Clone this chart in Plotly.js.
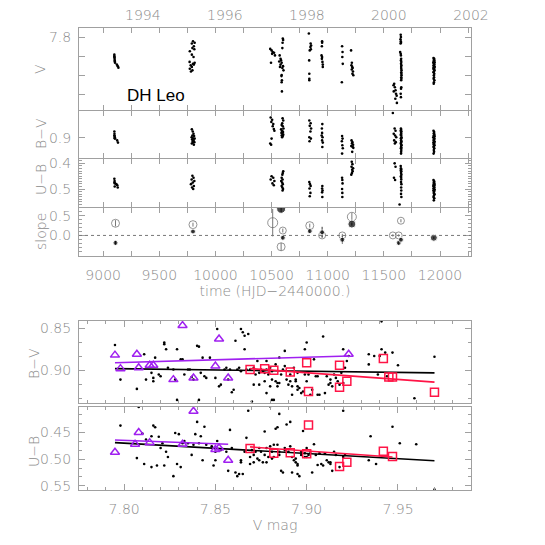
<!DOCTYPE html>
<html><head><meta charset="utf-8">
<script src="https://cdn.plot.ly/plotly-3.0.1.min.js"></script>
<style>html,body{margin:0;padding:0;background:#fff}#chart{width:545px;height:545px}</style>
</head><body><div id="chart"></div>
<script>
// ---------- top panels: time series ----------
const vTime = [9100,9100,9101,9102,9103,9104,9106,9122,9130,9136,
 9800,9815,9790,9808,9795,9812,9772,9790,9805,9770,9815,9800,9808,9780,9790,9772,9795,9782,
 10488,10500,10510,10522,10505,10530,10495,
 10600,10603,10598,10596,10572,10580,10585,10568,10590,10580,10602,10575,10596,10606,10590,10588,10592,10590,10592,
 10832,10848,10852,10846,10850,10840,10835,10836,10836,10836,
 10950,10950,10948,10945,10950,10948,10953,10956,10956,
 11128,11132,11130,11134,11126,
 11208,11215,11211,11218,11222,11214,11225,11220,11228,
 11592,11586,11598,11604,11588,11608,11614,11602,11616,
 11650,11652,11648,11651,11653,11649,11645,11650,11652,11654,11652,11655,11653,11656,11654,11655,11657,11655,11656,11657,11655,11656,11654,11655,11653,11650,11652,
 11942,11948,11945,11950,11944,11952,11940,11947,11950,11943,11946,11953,11941,11948,11944,11951,11946,11942,11949,11945,11947,11943,11950,11946,11944];
const vMag = [7.846,7.850,7.853,7.857,7.861,7.864,7.867,7.872,7.876,7.880,
 7.811,7.815,7.817,7.824,7.829,7.832,7.837,7.846,7.852,7.865,7.867,7.870,7.872,7.874,7.878,7.883,7.887,7.890,
 7.831,7.835,7.839,7.841,7.844,7.848,7.867,
 7.804,7.808,7.815,7.829,7.848,7.857,7.861,7.864,7.867,7.872,7.876,7.878,7.881,7.887,7.899,7.902,7.913,7.918,7.942,
 7.791,7.817,7.822,7.826,7.832,7.835,7.861,7.896,7.909,7.913,
 7.811,7.815,7.824,7.848,7.852,7.857,7.865,7.872,7.878,
 7.824,7.839,7.852,7.870,7.918,
 7.835,7.867,7.874,7.878,7.881,7.885,7.890,7.896,7.900,
 7.922,7.926,7.931,7.939,7.942,7.948,7.953,7.961,7.972,
 7.794,7.800,7.806,7.811,7.815,7.817,7.839,7.844,7.848,7.857,7.861,7.865,7.870,7.874,7.878,7.883,7.887,7.892,7.896,7.900,7.905,7.909,7.913,7.931,7.935,7.948,7.957,
 7.855,7.857,7.860,7.861,7.864,7.866,7.867,7.870,7.872,7.874,7.876,7.878,7.881,7.883,7.884,7.887,7.890,7.892,7.896,7.900,7.905,7.909,7.913,7.918,7.922];

const bvTime = [9100,9101,9100,9102,9104,9103,9106,9125,9132,
 9790,9798,9805,9795,9810,9788,9800,9815,9792,9805,9798,9812,9800,9790,9808,
 10492,10505,10498,10515,10510,10520,10525,10500,10488,10496,
 10598,10604,10595,10590,10600,10606,10585,10592,10598,10602,10588,10596,10604,10590,10600,10594,
 10836,10848,10840,10852,10846,10836,10850,10838,
 10952,10948,10950,10946,10954,10950,10956,10952,
 11128,11132,11126,11130,11134,11128,
 11212,11220,11216,11226,11210,11222,11228,11218,
 11580,11596,11604,11588,11600,11610,11592,11606,11598,
 11652,11654,11650,11656,11653,11655,11651,11654,11657,11652,11655,11653,11656,11654,11651,11655,11657,11653,11656,11652,11655,11654,11653,
 11942,11948,11945,11950,11944,11952,11940,11947,11950,11943,11946,11953,11941,11948,11944,11951,11946,11942,11949,11945,11947,11943];
const bvVal = [0.886,0.891,0.895,0.896,0.899,0.901,0.902,0.906,0.911,
 0.881,0.886,0.891,0.895,0.896,0.899,0.901,0.902,0.904,0.906,0.908,0.910,0.911,0.913,0.916,
 0.854,0.859,0.864,0.869,0.874,0.880,0.884,0.902,0.913,0.916,
 0.856,0.861,0.867,0.871,0.874,0.879,0.881,0.884,0.886,0.887,0.889,0.891,0.893,0.895,0.896,0.899,
 0.861,0.867,0.873,0.879,0.886,0.899,0.902,0.908,
 0.869,0.879,0.889,0.895,0.899,0.906,0.911,0.921,
 0.896,0.902,0.908,0.917,0.924,0.936,
 0.906,0.910,0.913,0.916,0.919,0.921,0.923,0.932,
 0.844,0.879,0.884,0.891,0.895,0.899,0.906,0.910,0.913,
 0.879,0.882,0.884,0.886,0.887,0.891,0.893,0.895,0.899,0.901,0.902,0.906,0.908,0.910,0.913,0.916,0.917,0.921,0.923,0.924,0.928,0.932,0.936,
 0.884,0.887,0.890,0.893,0.895,0.897,0.899,0.901,0.903,0.905,0.907,0.909,0.911,0.913,0.915,0.917,0.919,0.921,0.924,0.928,0.932,0.936];

const ubTime = [9100,9102,9101,9104,9118,9126,9103,9130,
 9795,9805,9788,9812,9798,9782,9808,9792,9802,
 10500,10515,10492,10525,10508,10520,
 10604,10600,10596,10590,10598,10586,10594,10600,10590,10596,10602,10598,
 10836,10842,10848,10838,10846,10840,
 10952,10950,10954,10950,10952,
 11128,11130,11132,11128,11130,11130,
 11214,11220,11212,11226,11218,11222,11216,11210,
 11596,11604,11590,11600,
 11650,11652,11654,11651,11655,11653,11656,11652,11654,11655,11653,11656,11654,11655,11653,11656,11640,
 11942,11948,11945,11950,11944,11952,11940,11947,11950,11943,11946,11953,11941,11948,11944,11951,11946,11942,11949,11945];
const ubVal = [0.460,0.469,0.475,0.478,0.481,0.485,0.490,0.494,
 0.448,0.456,0.463,0.469,0.475,0.481,0.488,0.494,0.500,
 0.450,0.456,0.463,0.469,0.478,0.485,
 0.431,0.438,0.444,0.456,0.463,0.469,0.475,0.481,0.488,0.494,0.500,0.506,
 0.473,0.481,0.488,0.498,0.515,0.528,
 0.488,0.498,0.506,0.513,0.531,
 0.456,0.465,0.478,0.500,0.515,0.531,
 0.394,0.403,0.413,0.419,0.425,0.431,0.438,0.444,
 0.400,0.413,0.456,0.465,
 0.410,0.419,0.423,0.428,0.431,0.438,0.444,0.450,0.456,0.463,0.473,0.481,0.494,0.506,0.519,0.531,0.560,
 0.465,0.470,0.475,0.478,0.481,0.484,0.488,0.491,0.494,0.497,0.500,0.503,0.506,0.510,0.515,0.520,0.525,0.531,0.536,0.544];

// slope panel
const openTime = [9110,9800,10510,10600,10585,10840,10950,11130,11215,11580,11632,11652];
const openSlope = [0.31,0.275,0.325,0.125,-0.29,0.25,0.0,0.0,0.475,0.0,0.0,0.375];
const openErr = [0.08,0.05,0.35,0.05,0.10,0.05,0.04,0.04,0.10,0.03,0.03,0.04];
const openSize = [8,8,10,7,8,8,7,7,9,7,7,7];
const fillTime = [9110,9800,10585,10600,10840,10950,11130,11215,11632,11652,11945];
const fillSlope = [-0.19,0.10,0.68,-0.06,0.11,0.08,-0.11,0.29,-0.19,-0.11,-0.06];
const fillErr = [0.05,0.03,0.10,0.04,0.04,0.14,0.10,0.04,0.05,0.04,0.03];
const fillSize = [5,5,9,5,5,5,5,8,5,5,7];

const yearVals = [9353.5,10083.5,10814.5,11544.5,12275.5];
const yearText = ['1994','1996','1998','2000','2002'];

// ---------- bottom panels: colour-magnitude ----------
const dotV_bv = [7.795,7.798,7.807,7.811,7.812,7.815,7.816,7.816,7.817,7.819,7.820,7.822,7.822,7.823,7.824,7.827,7.828,7.829,7.829,7.831,7.832,7.833,7.835,7.836,7.837,7.838,7.840,7.841,7.841,7.842,7.843,7.844,7.845,7.847,7.850,7.851,7.852,7.853,7.855,7.856,7.857,7.858,7.859,7.860,7.861,7.862,7.863,7.864,7.864,7.865,7.866,7.866,7.867,7.868,7.869,7.870,7.871,7.871,7.872,7.873,7.874,7.874,7.875,7.876,7.877,7.877,7.878,7.878,7.878,7.879,7.880,7.880,7.881,7.881,7.881,7.882,7.883,7.883,7.884,7.884,7.885,7.885,7.886,7.887,7.888,7.888,7.889,7.890,7.891,7.891,7.892,7.892,7.893,7.894,7.894,7.895,7.895,7.895,7.896,7.897,7.898,7.899,7.899,7.900,7.900,7.901,7.902,7.903,7.904,7.905,7.906,7.906,7.907,7.909,7.910,7.911,7.912,7.913,7.913,7.914,7.915,7.916,7.917,7.918,7.919,7.920,7.920,7.921,7.922,7.923,7.934,7.934,7.937,7.939,7.940,7.941,7.943,7.944,7.947,7.950,7.959,7.970,7.941];
const dotBV = [0.870,0.911,0.922,0.881,0.911,0.903,0.909,0.913,0.885,0.905,0.907,0.869,0.867,0.875,0.897,0.899,0.911,0.875,0.935,0.887,0.887,0.905,0.899,0.899,0.908,0.911,0.871,0.872,0.935,0.903,0.885,0.907,0.909,0.885,0.909,0.851,0.919,0.917,0.899,0.897,0.911,0.899,0.926,0.923,0.865,0.899,0.897,0.901,0.851,0.855,0.875,0.859,0.899,0.857,0.899,0.937,0.897,0.917,0.905,0.889,0.917,0.903,0.899,0.901,0.913,0.903,0.899,0.889,0.927,0.905,0.919,0.897,0.935,0.901,0.911,0.935,0.893,0.913,0.919,0.915,0.915,0.885,0.905,0.899,0.877,0.895,0.911,0.917,0.905,0.913,0.919,0.929,0.897,0.911,0.913,0.919,0.923,0.903,0.921,0.927,0.925,0.905,0.875,0.867,0.913,0.905,0.929,0.923,0.887,0.907,0.907,0.929,0.929,0.860,0.927,0.907,0.917,0.911,0.915,0.919,0.905,0.909,0.913,0.917,0.903,0.875,0.915,0.897,0.889,0.883,0.893,0.881,0.883,0.905,0.883,0.875,0.879,0.907,0.879,0.894,0.933,0.884,0.842];
const triV_bv = [7.795,7.798,7.807,7.808,7.814,7.816,7.827,7.832,7.838,7.850,7.852,7.857,7.923];
const triBV = [0.882,0.898,0.881,0.897,0.894,0.894,0.911,0.847,0.909,0.895,0.863,0.909,0.881];
const sqV_bv = [7.869,7.877,7.882,7.891,7.900,7.901,7.918,7.918,7.922,7.942,7.945,7.947,7.970];
const sqBV = [0.899,0.898,0.900,0.902,0.891,0.925,0.894,0.920,0.913,0.886,0.908,0.908,0.926];
const fitAllV_bv = [7.795,7.970], fitAllBV = [0.898,0.903];
const fitTriV_bv = [7.795,7.923], fitTriBV = [0.891,0.883];
const fitSqV_bv = [7.869,7.970], fitSqBV = [0.898,0.914];

const dotV_ub = [7.798,7.808,7.807,7.810,7.811,7.812,7.815,7.815,7.816,7.817,7.818,7.819,7.820,7.821,7.822,7.823,7.824,7.827,7.828,7.829,7.830,7.831,7.832,7.833,7.835,7.837,7.838,7.839,7.840,7.841,7.842,7.843,7.844,7.845,7.848,7.849,7.850,7.850,7.851,7.853,7.856,7.857,7.858,7.859,7.861,7.862,7.863,7.864,7.864,7.865,7.866,7.867,7.868,7.869,7.869,7.870,7.871,7.871,7.872,7.873,7.874,7.874,7.875,7.876,7.877,7.877,7.878,7.878,7.879,7.880,7.880,7.881,7.881,7.882,7.882,7.883,7.884,7.884,7.885,7.885,7.885,7.886,7.887,7.888,7.888,7.889,7.890,7.891,7.891,7.892,7.892,7.893,7.894,7.894,7.895,7.895,7.895,7.896,7.897,7.897,7.898,7.899,7.899,7.900,7.900,7.901,7.902,7.903,7.904,7.905,7.906,7.907,7.908,7.909,7.910,7.911,7.912,7.913,7.913,7.914,7.915,7.916,7.918,7.920,7.920,7.921,7.934,7.935,7.938,7.947,7.951,7.960,7.970];
const dotUB = [0.437,0.402,0.498,0.452,0.509,0.463,0.457,0.515,0.437,0.440,0.512,0.458,0.479,0.470,0.512,0.486,0.496,0.532,0.451,0.509,0.453,0.515,0.470,0.466,0.470,0.492,0.473,0.453,0.430,0.470,0.457,0.502,0.439,0.473,0.476,0.512,0.502,0.486,0.466,0.483,0.486,0.522,0.445,0.479,0.525,0.532,0.528,0.502,0.506,0.528,0.486,0.460,0.409,0.496,0.509,0.483,0.492,0.506,0.486,0.499,0.479,0.502,0.486,0.506,0.448,0.492,0.506,0.479,0.496,0.476,0.401,0.499,0.486,0.473,0.496,0.443,0.440,0.473,0.415,0.492,0.486,0.522,0.525,0.479,0.483,0.435,0.486,0.430,0.476,0.525,0.496,0.502,0.506,0.499,0.509,0.512,0.528,0.532,0.492,0.486,0.447,0.489,0.496,0.479,0.496,0.492,0.486,0.525,0.472,0.492,0.511,0.489,0.509,0.512,0.489,0.502,0.506,0.509,0.506,0.522,0.486,0.492,0.515,0.496,0.409,0.492,0.502,0.457,0.509,0.439,0.470,0.472,0.557];
const triV_ub = [7.795,7.806,7.808,7.814,7.832,7.838,7.850,7.852,7.857];
const triUB = [0.487,0.472,0.450,0.469,0.472,0.410,0.482,0.479,0.502];
const sqV_ub = [7.869,7.882,7.891,7.900,7.901,7.918,7.922,7.942,7.947];
const sqUB = [0.480,0.489,0.488,0.490,0.436,0.514,0.506,0.485,0.495];
const fitAllV_ub = [7.795,7.970], fitAllUB = [0.469,0.503];
const fitTriV_ub = [7.795,7.857], fitTriUB = [0.464,0.472];
const fitSqV_ub = [7.869,7.947], fitSqUB = [0.477,0.496];

// ---------- styling ----------
const GRAY = '#8a8a8a', LINE = '#a0a0a0';
const PURPLE = '#a020f0', RED = '#ff1446';
const FONTFAM = 'DejaVu Sans ExtraLight, DejaVu Sans Light, DejaVu Sans, sans-serif';
const tickFont = {family: FONTFAM, size: 14, color: GRAY};
const L = 79, R = 471, T = 28, B = 490;
const W = 545, H = 545;
const py = p => (B - p) / (B - T);
const px = p => (p - L) / (R - L);

function baseAxis(extra) {
  return Object.assign({
    showline: true, linecolor: LINE, linewidth: 1, mirror: 'ticks',
    ticks: 'inside', tickcolor: LINE, ticklen: 6, tickwidth: 1,
    showgrid: false, zeroline: false, tickfont: tickFont, fixedrange: true
  }, extra);
}
const tRange = [8785, 12276];
function timeAxis(extra) {
  return baseAxis(Object.assign({
    tickmode: 'linear', tick0: 9000, dtick: 500, ticklen: 5, tickformat: 'd',
    minor: {dtick: 250, tick0: 9000, ticklen: 5, ticks: 'inside', tickcolor: LINE, showgrid: false}
  }, extra));
}
const vmRange = [7.7753, 7.990];
function vmagAxis(extra) {
  return baseAxis(Object.assign({
    range: vmRange, tickmode: 'array', tickvals: [7.80,7.85,7.90,7.95], ticktext: ['7.80','7.85','7.90','7.95'],
    ticklen: 6, minor: {dtick: 0.01, tick0: 7.80, ticklen: 3, ticks: 'inside', tickcolor: LINE, showgrid: false}
  }, extra));
}

const dot = {size: 2.6, color: '#000'};
const traces = [
  {x: vTime, y: vMag, xaxis: 'x', yaxis: 'y', mode: 'markers', type: 'scatter', marker: dot},
  // carrier for the calendar-year axis along the top (invisible)
  {x: yearVals, y: yearVals.map(() => 7.8), xaxis: 'x5', yaxis: 'y', mode: 'markers', type: 'scatter',
   marker: {size: 1, opacity: 0}, hoverinfo: 'skip'},
  {x: bvTime, y: bvVal, xaxis: 'x2', yaxis: 'y2', mode: 'markers', type: 'scatter', marker: dot},
  {x: ubTime, y: ubVal, xaxis: 'x3', yaxis: 'y3', mode: 'markers', type: 'scatter', marker: dot},
  {x: openTime, y: openSlope, xaxis: 'x4', yaxis: 'y4', mode: 'markers', type: 'scatter',
   marker: {symbol: 'circle-open', size: openSize, color: '#666', line: {width: 1}},
   error_y: {type: 'data', array: openErr, visible: true, color: '#777', thickness: 1, width: 0}},
  {x: fillTime, y: fillSlope, xaxis: 'x4', yaxis: 'y4', mode: 'markers', type: 'scatter',
   marker: {symbol: 'circle', size: fillSize, color: '#000'},
   error_y: {type: 'data', array: fillErr, visible: true, color: '#333', thickness: 1, width: 0}},
  // bottom B-V
  {x: dotV_bv, y: dotBV, xaxis: 'x6', yaxis: 'y6', mode: 'markers', type: 'scatter', marker: dot},
  {x: fitTriV_bv, y: fitTriBV, xaxis: 'x6', yaxis: 'y6', mode: 'lines', type: 'scatter', line: {color: PURPLE, width: 1.6}},
  {x: fitAllV_bv, y: fitAllBV, xaxis: 'x6', yaxis: 'y6', mode: 'lines', type: 'scatter', line: {color: '#000', width: 1.6}},
  {x: fitSqV_bv, y: fitSqBV, xaxis: 'x6', yaxis: 'y6', mode: 'lines', type: 'scatter', line: {color: RED, width: 1.6}},
  {x: triV_bv, y: triBV, xaxis: 'x6', yaxis: 'y6', mode: 'markers', type: 'scatter',
   marker: {symbol: 'triangle-up-open', size: 8, color: PURPLE, line: {width: 1.5}}},
  {x: sqV_bv, y: sqBV, xaxis: 'x6', yaxis: 'y6', mode: 'markers', type: 'scatter',
   marker: {symbol: 'square-open', size: 8, color: RED, line: {width: 1.5}}},
  // bottom U-B
  {x: dotV_ub, y: dotUB, xaxis: 'x7', yaxis: 'y7', mode: 'markers', type: 'scatter', marker: dot},
  {x: fitTriV_ub, y: fitTriUB, xaxis: 'x7', yaxis: 'y7', mode: 'lines', type: 'scatter', line: {color: PURPLE, width: 1.6}},
  {x: fitAllV_ub, y: fitAllUB, xaxis: 'x7', yaxis: 'y7', mode: 'lines', type: 'scatter', line: {color: '#000', width: 1.6}},
  {x: fitSqV_ub, y: fitSqUB, xaxis: 'x7', yaxis: 'y7', mode: 'lines', type: 'scatter', line: {color: RED, width: 1.6}},
  {x: triV_ub, y: triUB, xaxis: 'x7', yaxis: 'y7', mode: 'markers', type: 'scatter',
   marker: {symbol: 'triangle-up-open', size: 8, color: PURPLE, line: {width: 1.5}}},
  {x: sqV_ub, y: sqUB, xaxis: 'x7', yaxis: 'y7', mode: 'markers', type: 'scatter',
   marker: {symbol: 'square-open', size: 8, color: RED, line: {width: 1.5}}}
];

const titleFont = {family: FONTFAM, size: 14, color: GRAY};
function ylab(text, x, y) {
  return {text: text, xref: 'paper', yref: 'paper', x: px(x), y: py(y), showarrow: false,
          textangle: -90, font: titleFont, xanchor: 'center', yanchor: 'middle'};
}

const layout = {
  width: W, height: H, showlegend: false,
  paper_bgcolor: '#fff', plot_bgcolor: '#fff',
  margin: {l: L, r: W - R, t: T, b: H - B, pad: 0},
  xaxis: timeAxis({matches: 'x4', anchor: 'y', showticklabels: false}),
  xaxis2: timeAxis({matches: 'x4', anchor: 'y2', showticklabels: false}),
  xaxis3: timeAxis({matches: 'x4', anchor: 'y3', showticklabels: false}),
  xaxis4: timeAxis({range: tRange, anchor: 'y4', ticklabelstandoff: 6,
    title: {text: 'time (HJD\u22122440000.)', font: titleFont, standoff: 4}}),
  xaxis5: {overlaying: 'x', anchor: 'y', side: 'top', range: tRange, tickmode: 'array',
    tickvals: yearVals, ticktext: yearText, ticks: '', showline: false, showgrid: false, zeroline: false,
    tickfont: tickFont, ticklabelstandoff: 4, fixedrange: true},
  xaxis6: vmagAxis({anchor: 'y6', showticklabels: false}),
  xaxis7: vmagAxis({anchor: 'y7', ticklabelstandoff: 6,
    title: {text: 'V mag', font: titleFont, standoff: 4}}),
  yaxis: baseAxis({anchor: 'x', domain: [py(110), py(28)], range: [7.9905, 7.7765],
    tickmode: 'array', tickvals: [7.8], ticktext: ['7.8'], ticklabelstandoff: 4,
    minor: {dtick: 0.05, tick0: 7.8, ticklen: 6, ticks: 'inside', tickcolor: LINE, showgrid: false}}),
  yaxis2: baseAxis({anchor: 'x2', domain: [py(158), py(111)], range: [0.946, 0.8393],
    tickmode: 'array', tickvals: [0.9], ticktext: ['0.9'], ticklabelstandoff: 4}),
  yaxis3: baseAxis({anchor: 'x3', domain: [py(207), py(159)], range: [0.570, 0.383],
    tickmode: 'array', tickvals: [0.4, 0.5], ticktext: ['0.4', '0.5'], ticklabelstandoff: 4,
    minor: {dtick: 0.01, tick0: 0.4, ticklen: 3, ticks: 'inside', tickcolor: LINE, showgrid: false}}),
  yaxis4: baseAxis({anchor: 'x4', domain: [py(256), py(208)], range: [-0.525, 0.70],
    tickmode: 'array', tickvals: [0, 0.5], ticktext: ['0.0', '0.5'], ticklabelstandoff: 4,
    minor: {dtick: 0.1, tick0: 0, ticklen: 3, ticks: 'inside', tickcolor: LINE, showgrid: false}}),
  yaxis6: baseAxis({anchor: 'x6', domain: [py(403), py(321)], range: [0.9387, 0.8416],
    tickmode: 'array', tickvals: [0.85, 0.90], ticktext: ['0.85', '0.90'], ticklabelstandoff: 4,
    minor: {dtick: 0.05/3, tick0: 0.85, ticklen: 3, ticks: 'inside', tickcolor: LINE, showgrid: false}}),
  yaxis7: baseAxis({anchor: 'x7', domain: [0, py(407)], range: [0.558, 0.402],
    tickmode: 'array', tickvals: [0.45, 0.50, 0.55], ticktext: ['0.45', '0.50', '0.55'], ticklabelstandoff: 4,
    minor: {dtick: 0.05/3, tick0: 0.45, ticklen: 3, ticks: 'inside', tickcolor: LINE, showgrid: false}}),
  shapes: [{type: 'line', xref: 'x4 domain', x0: 0, x1: 1, yref: 'y4', y0: 0, y1: 0,
            line: {color: '#777', width: 1, dash: 'dot'}}],
  annotations: [
    ylab('V', 40, 69), ylab('B\u2212V', 41, 134), ylab('U\u2212B', 41, 180), ylab('slope', 41, 232),
    ylab('B\u2212V', 34, 364), ylab('U\u2212B', 34, 452),
    {text: 'DH Leo', xref: 'paper', yref: 'paper', x: px(125), y: py(95), xanchor: 'left', yanchor: 'middle',
     showarrow: false, font: {family: 'Liberation Sans, Arial, sans-serif', size: 17, color: '#000'}}
  ]
};

Plotly.newPlot('chart', traces, layout, {staticPlot: true, displayModeBar: false});
</script></body></html>
